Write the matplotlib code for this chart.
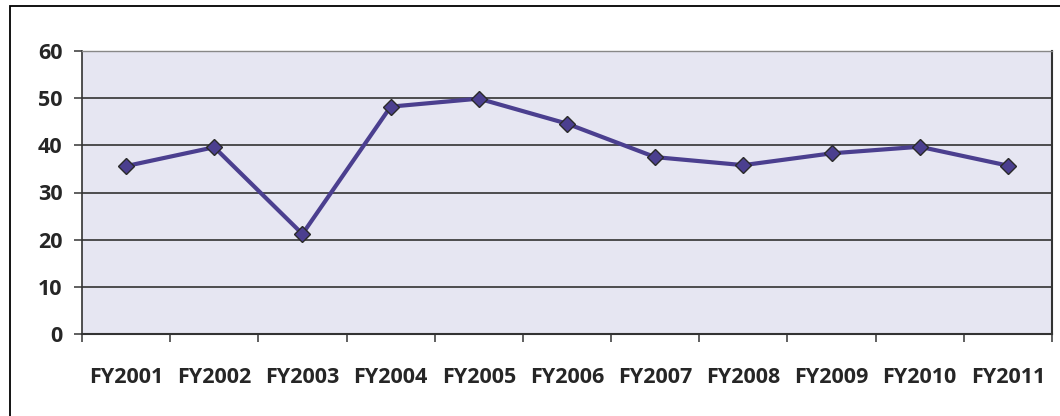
import matplotlib
matplotlib.use("Agg")
import matplotlib.pyplot as plt
from matplotlib.patches import Rectangle

# Data
years = ["FY2001", "FY2002", "FY2003", "FY2004", "FY2005", "FY2006",
         "FY2007", "FY2008", "FY2009", "FY2010", "FY2011"]
values = [35.6, 39.6, 21.2, 48.2, 49.9, 44.6, 37.5, 35.8, 38.3, 39.7, 35.7]
y_ticks = [0, 10, 20, 30, 40, 50, 60]

plt.rcParams["font.family"] = ["Open Sans", "DejaVu Sans"]

fig = plt.figure(figsize=(10.6, 4.16), dpi=100)

# Outer chart border
fig.patches.append(Rectangle((10 / 1060, -0.05), 1.1, (416 - 6) / 416 + 0.05,
                             transform=fig.transFigure, fill=False,
                             edgecolor="black", linewidth=1.3))

ax = fig.add_axes([82 / 1060, 82 / 416, 970 / 1060, 283 / 416])
ax.set_facecolor("#E6E6F2")

x = list(range(len(years)))
ax.plot(x, values, color="#4B3F8F", linewidth=3, marker="D", markersize=8,
        markerfacecolor="#4B3F8F", markeredgecolor="#2a2a2a",
        markeredgewidth=1.0, zorder=3)

ax.set_xlim(-0.5, len(years) - 0.5)
ax.set_ylim(0, 60)
ax.set_yticks(y_ticks)
ax.set_yticklabels([str(v) for v in y_ticks])
ax.grid(axis="y", color="#333333", linewidth=1.2)
ax.set_axisbelow(True)

ax.set_xticks(x)
ax.set_xticklabels(years)
ax.set_xticks([i - 0.5 for i in range(len(years) + 1)], minor=True)
ax.tick_params(axis="x", which="major", length=0, pad=24)
ax.tick_params(axis="x", which="minor", length=6, width=1.2, color="#444444")
ax.tick_params(axis="y", length=6, width=1.2, color="#444444", pad=8)

for lab in ax.get_xticklabels() + ax.get_yticklabels():
    lab.set_fontweight("bold")
    lab.set_fontsize(15.5)
    lab.set_color("#262626")

ax.spines["top"].set_color("#888888")
ax.spines["top"].set_linewidth(1.0)
ax.spines["right"].set_color("#333333")
ax.spines["right"].set_linewidth(1.5)
ax.spines["left"].set_color("#333333")
ax.spines["bottom"].set_color("#333333")
ax.spines["left"].set_linewidth(1.2)
ax.spines["bottom"].set_linewidth(1.5)

plt.savefig("out.png", dpi=100)
plt.close()
